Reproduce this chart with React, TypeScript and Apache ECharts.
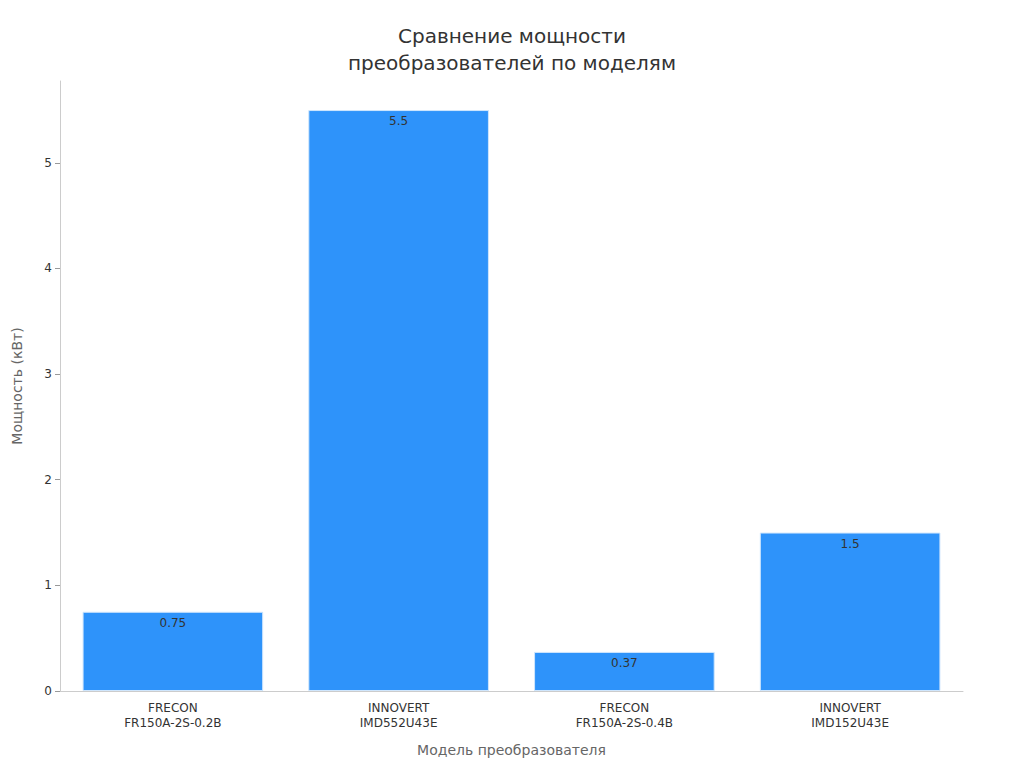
import React, { useEffect, useRef } from "react";
import * as echarts from "echarts";

const categories = [
  "FRECON\nFR150A-2S-0.2B",
  "INNOVERT\nIMD552U43E",
  "FRECON\nFR150A-2S-0.4B",
  "INNOVERT\nIMD152U43E",
];
const powerValues = [0.75, 5.5, 0.37, 1.5];
const yTicks = [0, 1, 2, 3, 4, 5];
const titleText = "Сравнение мощности\nпреобразователей по моделям";
const xName = "Модель преобразователя";
const yName = "Мощность (кВт)";

export default function App() {
  const ref = useRef<HTMLDivElement>(null);
  useEffect(() => {
    document.body.style.margin = "0";
    const chart = echarts.init(ref.current!, null, { renderer: "svg" });
    const font = "'DejaVu Sans', sans-serif";
    chart.setOption({
      animation: false,
      textStyle: { fontFamily: font },
      title: {
        text: titleText,
        left: "center",
        top: 17,
        textStyle: { fontSize: 20, lineHeight: 27, fontWeight: "normal", color: "#333", fontFamily: font },
      },
      grid: { left: 60, right: 61, top: 81, bottom: 77 },
      xAxis: {
        type: "category",
        data: categories,
        name: xName,
        nameLocation: "middle",
        nameGap: 52,
        nameTextStyle: { fontSize: 14, color: "#666", fontFamily: font },
        axisLine: { lineStyle: { color: "#ccc" } },
        axisTick: { alignWithLabel: true, length: 5, lineStyle: { color: "#999" } },
        axisLabel: { fontSize: 12, lineHeight: 15, color: "#333", margin: 9, fontFamily: font },
      },
      yAxis: {
        type: "value",
        min: 0,
        max: 5.775,
        interval: 1,
        name: yName,
        nameLocation: "middle",
        nameGap: 36,
        nameTextStyle: { fontSize: 14, color: "#666", fontFamily: font },
        axisLine: { show: true, lineStyle: { color: "#ccc" } },
        axisTick: { show: true, length: 5, lineStyle: { color: "#999" }, customValues: yTicks },
        axisLabel: { fontSize: 12, color: "#333", margin: 8, fontFamily: font, customValues: yTicks },
        splitLine: { show: false },
      },
      series: [
        {
          type: "bar",
          data: powerValues,
          barCategoryGap: "20%",
          itemStyle: { color: "#2E93FA", borderColor: "#cfe6fd", borderWidth: 1 },
          label: {
            show: true,
            position: "insideTop",
            distance: 5,
            fontSize: 12,
            color: "#333",
            fontFamily: font,
          },
        },
      ],
    });
    return () => chart.dispose();
  }, []);
  return <div ref={ref} style={{ width: 1024, height: 768, position: "absolute", left: 0, top: 0 }} />;
}
